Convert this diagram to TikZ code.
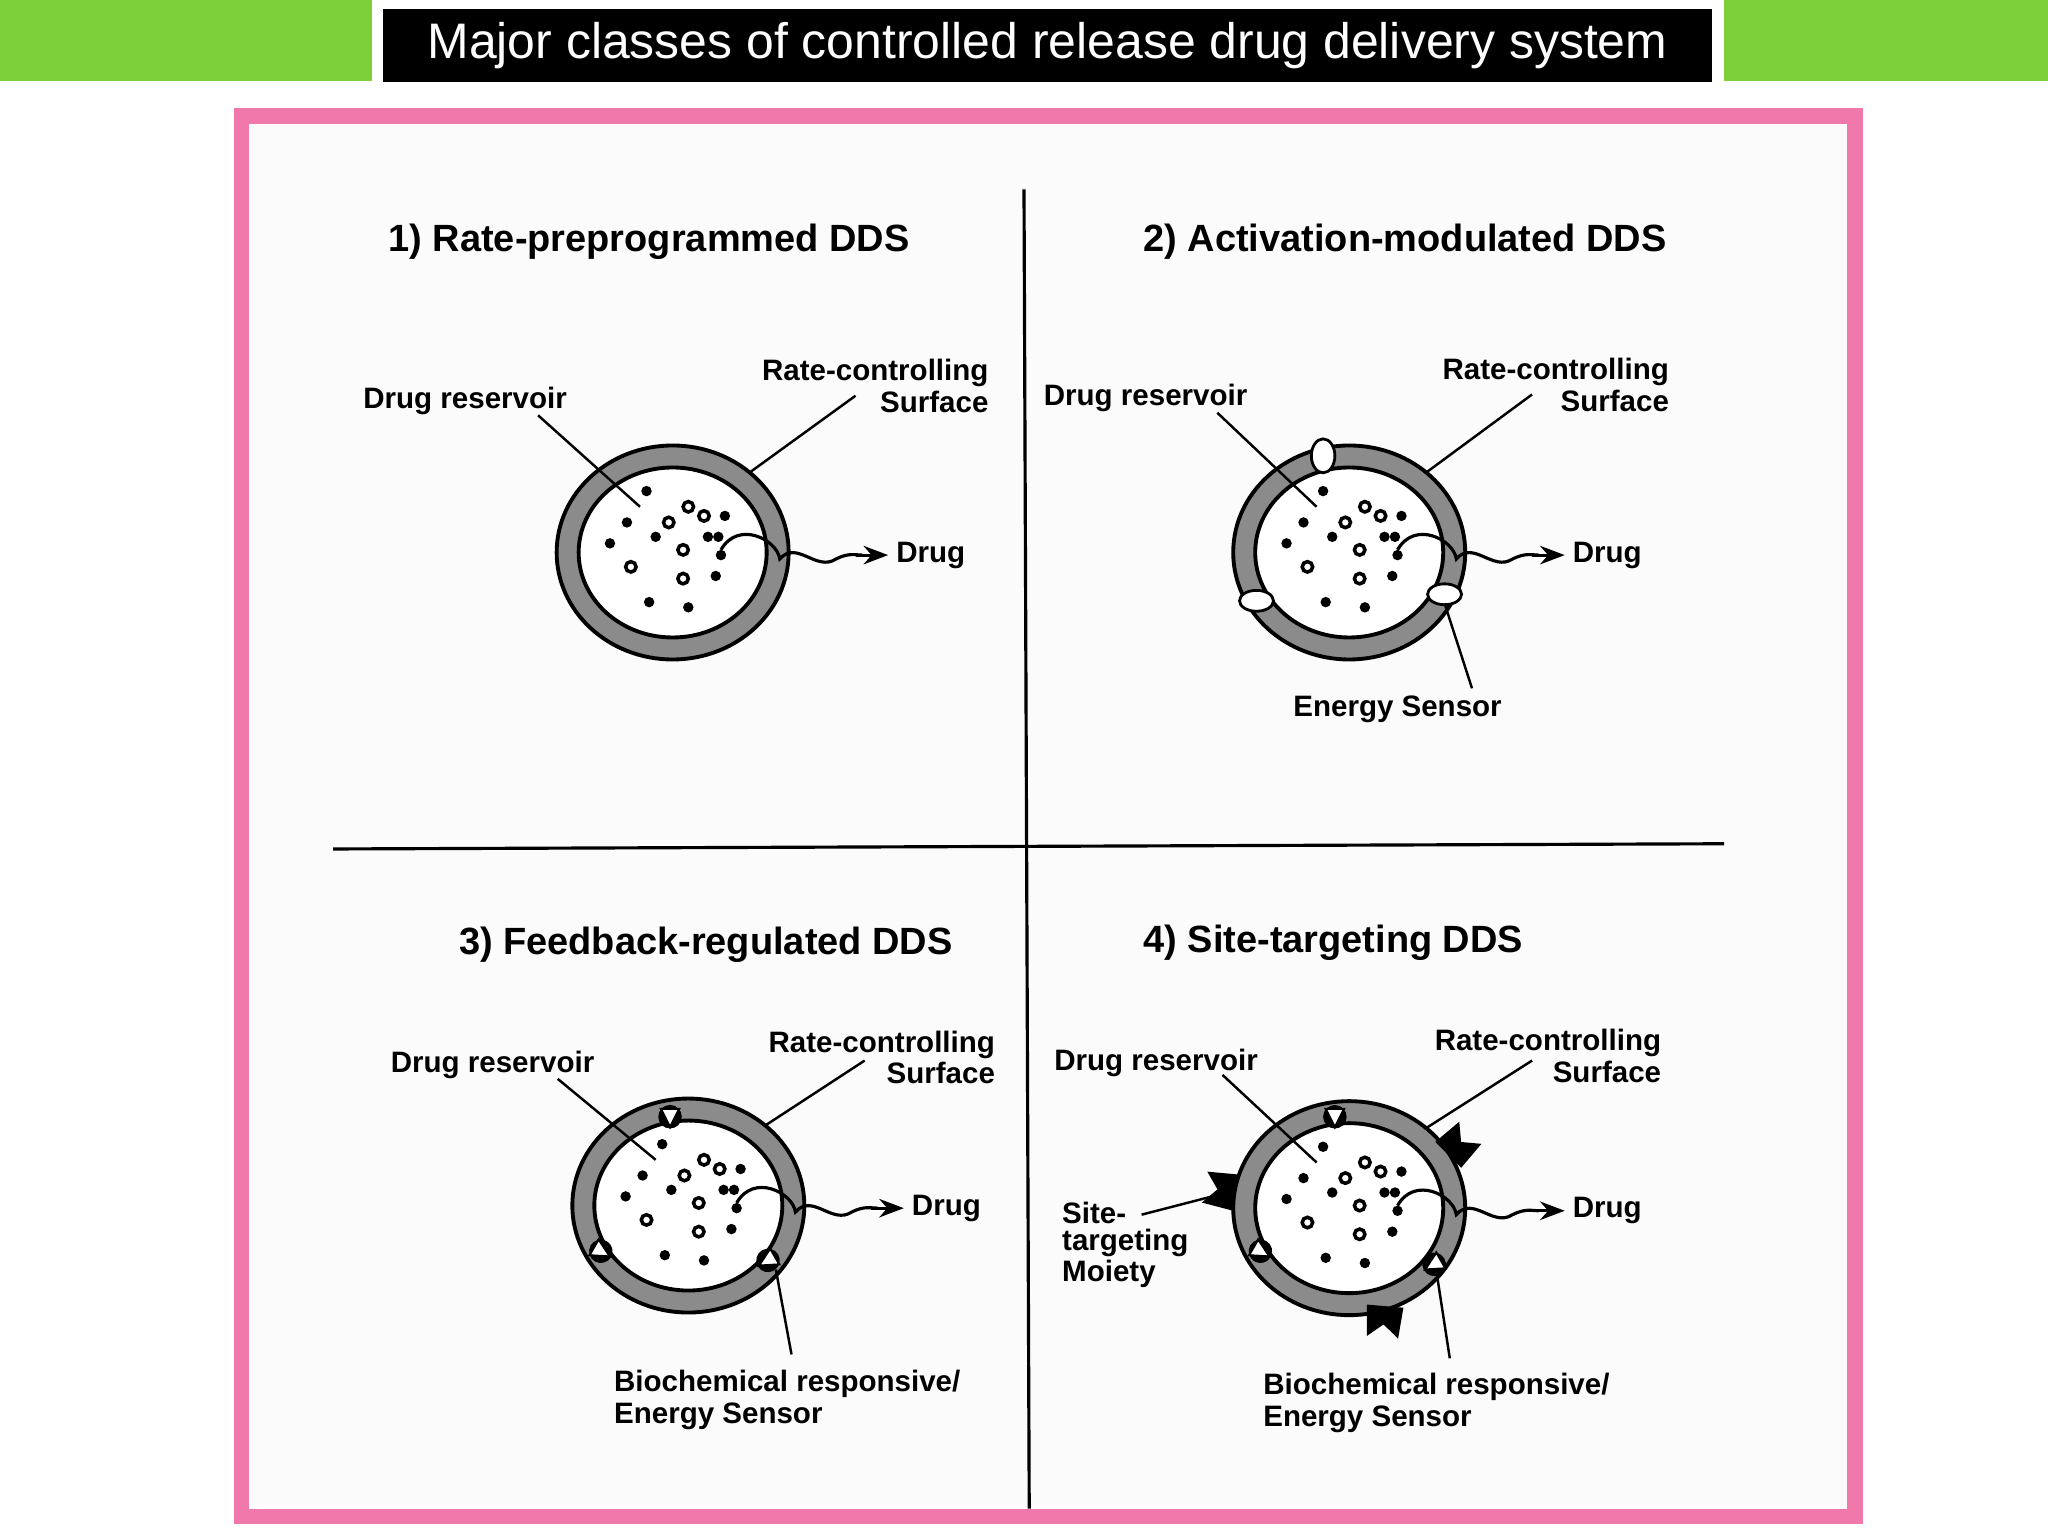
\documentclass[tikz,border=0pt]{standalone}
\usepackage{fontspec}
\setmainfont{Liberation Sans}
\usetikzlibrary{shapes.geometric,arrows.meta}
\definecolor{tgreen}{RGB}{126,208,58}
\begin{document}
\begin{tikzpicture}[x=0.01306cm,y=-0.01306cm,
 lab/.style={font=\bfseries\fontsize{8.4}{9}\selectfont,inner sep=1pt},
 head/.style={font=\bfseries\fontsize{10.8}{12}\selectfont},
 lead/.style={line width=0.7pt},
 sens/.style={draw=black,fill=white,line width=0.8pt}]
\useasboundingbox (0,0) rectangle (1568,1176);
\fill[white] (0,0) rectangle (1568,1176);
% title
\fill[tgreen] (0,0) rectangle (1568,62);
\fill[white] (285,0) rectangle (1320,66);
\node[fill=black,minimum width=1017*0.01306cm,minimum height=56*0.01306cm,text=white,font=\fontsize{14.2}{15}\selectfont] (title) at (802,35) {Major classes of controlled release drug delivery system};
% frame
\draw[line width=12*0.01306cm,draw={rgb,255:red,240;green,120;blue,170}] (185,89) rectangle (1420,1161);
\fill[gray!3] (192,96) rectangle (1413,1154);
\draw[line width=0.9pt] (784,145) -- (788,1155);
\draw[line width=0.9pt] (255,650) -- (1320,646);
% device macro
\newcommand\devbody[2]{%
 \node[ellipse,draw=black,line width=1.1pt,fill=gray!70!black!70,minimum width=2.32cm,minimum height=2.14cm] (#1) at (#2) {};
 \node[ellipse,draw=black,line width=1.1pt,fill=white,minimum width=1.88cm,minimum height=1.70cm] (#1i) at (#2) {};
 \begin{scope}[shift={(#2)}]
 \foreach \p in {(-20,-47),(-35,-23),(-13,-12),(40,-28),(27,-12),(35,-12),(-48,-7),(33,18),(-18,38),(12,42),(37,2)}
   \fill \p circle (4);
 \foreach \p in {(12,-35),(24,-28),(8,-2),(-32,11),(8,20),(-3,-23)}
   \draw[line width=1pt] \p circle (4);
 \coordinate (#1res) at (-25,-35);
 \coordinate (#1rc) at (60,-62);
 \draw[line width=0.9pt] (37,-2) .. controls (50,-25) and (80,-10) .. (82,5) .. controls (95,-10) and (110,15) .. (125,5) .. controls (135,0) and (140,2) .. (145,2);
 \draw[-{Stealth[length=7pt]},line width=0.9pt] (140,2) -- (165,2);
 \coordinate (#1drug) at (168,2);
 \end{scope}}
% Panel 1
\node[head,anchor=west] (h1) at (288,185) {1) Rate-preprogrammed DDS};
\devbody{d1}{515,423}
\node[lab,anchor=west] (r1) at (275,307) {Drug reservoir};
\node[lab,align=right,anchor=north east] (s1) at (760,272) {Rate-controlling\\Surface};
\node[lab,anchor=west] (g1) at (d1drug) {Drug};
\draw[lead] (412,318) -- (d1res);
\draw[lead] (655,303) -- (d1rc);
% Panel 2
\node[head,anchor=west] (h2) at (866,185) {2) Activation-modulated DDS};
\devbody{d2}{1033,423}
\draw[sens] (1013,349) ellipse (9 and 13);
\draw[sens] (962,460) ellipse (13 and 8);
\draw[sens] (1106,455) ellipse (13 and 8);
\node[lab,anchor=west] (r2) at (796,305) {Drug reservoir};
\node[lab,align=right,anchor=north east] (s2) at (1281,271) {Rate-controlling\\Surface};
\node[lab,anchor=west] (g2) at (d2drug) {Drug};
\node[lab] (e2) at (1070,543) {Energy Sensor};
\draw[lead] (932,316) -- (d2res);
\draw[lead] (1173,302) -- (d2rc);
\draw[lead] (1127,527) -- (1106,462);
% sensor shapes for 3,4
\newcommand\bsens[3]{%
 \begin{scope}[shift={(#1)},rotate=#2]
  \fill (0,0) circle (#3);
  \draw[fill=white,line width=0.6pt] (-7,-6) -- (7,-6) -- (0,8) -- cycle;
 \end{scope}}
% Panel 3
\node[head,anchor=west] (h3) at (342,723) {3) Feedback-regulated DDS};
\devbody{d3}{527,923}
\bsens{513,855}{0}{9}
\bsens{460,958}{60}{9}
\bsens{588,965}{-60}{9}
\node[lab,anchor=west] (r3) at (296,815) {Drug reservoir};
\node[lab,align=right,anchor=north east] (s3) at (765,786) {Rate-controlling\\Surface};
\node[lab,anchor=west] (g3) at (d3drug) {Drug};
\node[lab,align=left,anchor=north west] (e3) at (467,1046) {Biochemical responsive/\\Energy Sensor};
\draw[lead] (427,826) -- (d3res);
\draw[lead] (662,812) -- (d3rc);
\draw[lead] (606,1037) -- (594,972);
% Panel 4
\node[head,anchor=west] (h4) at (866,722) {4) Site-targeting DDS};
\devbody{d4}{1033,925}
\bsens{1022,855}{0}{9}
\bsens{965,958}{60}{9}
\bsens{1098,968}{-60}{9}
\foreach \c/\a in {{1113,880}/45,{940,912}/170,{1060,1006}/-95}{
 \begin{scope}[shift={(\c)},rotate=\a]
  \fill (-6,-14) -- (18,-12) -- (8,0) -- (18,12) -- (-6,14) -- cycle;
 \end{scope}}
\node[lab,anchor=west] (r4) at (804,814) {Drug reservoir};
\node[lab,align=right,anchor=north east] (s4) at (1275,785) {Rate-controlling\\Surface};
\node[lab,anchor=west] (g4) at (d4drug) {Drug};
\node[lab,align=left,anchor=north west] (e4) at (964,1048) {Biochemical responsive/\\Energy Sensor};
\node[lab,align=left,anchor=north west,font=\bfseries\fontsize{8.4}{7.8}\selectfont] (m4) at (810,917) {Site-\\targeting\\Moiety};
\coordinate (m4t) at (932,915);
\draw[lead] (936,823) -- (d4res);
\draw[lead] (1173,812) -- (d4rc);
\draw[lead] (1110,1040) -- (1100,975);
\draw[lead] (874,930) -- (m4t);
\end{tikzpicture}
\end{document}
